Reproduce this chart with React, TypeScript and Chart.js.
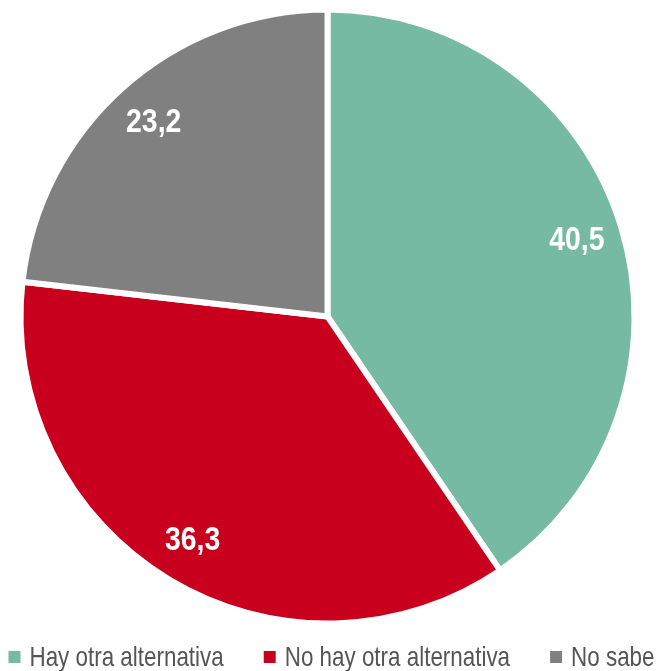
import React, { useEffect, useRef } from "react";
import { Chart, registerables } from "chart.js";

Chart.register(...registerables);

const categories = ["Hay otra alternativa", "No hay otra alternativa", "No sabe"];
const values = [40.5, 36.3, 23.2];
const valueLabels = ["40,5", "36,3", "23,2"];
const colors = ["#76BAA3", "#C8001E", "#808080"];

const FONT = '"Liberation Sans", Arial, sans-serif';
const LABEL_SCALE = 0.86;
const LEGEND_SCALE = 0.8;

function drawCondensed(ctx: any, text: string, x: number, y: number, sx: number, align: string) {
  ctx.save();
  ctx.translate(x, y);
  ctx.scale(sx, 1);
  ctx.textAlign = align;
  ctx.fillText(text, 0, 0);
  ctx.restore();
}

const labelPlugin = {
  id: "sliceLabels",
  afterDatasetsDraw(chart: any) {
    const ctx = chart.ctx;
    const meta = chart.getDatasetMeta(0);
    ctx.save();
    ctx.fillStyle = "#ffffff";
    ctx.font = `bold 33px ${FONT}`;
    ctx.textBaseline = "middle";
    meta.data.forEach((arc: any, i: number) => {
      const { x, y, startAngle, endAngle, outerRadius } = arc.getProps(
        ["x", "y", "startAngle", "endAngle", "outerRadius"],
        true
      );
      const mid = (startAngle + endAngle) / 2;
      const r = outerRadius * 0.85;
      drawCondensed(ctx, valueLabels[i], x + Math.cos(mid) * r, y + Math.sin(mid) * r + 1, LABEL_SCALE, "center");
    });
    ctx.restore();
  },
};

const legendPlugin = {
  id: "customLegend",
  afterDraw(chart: any) {
    const ctx = chart.ctx;
    ctx.save();
    ctx.font = `28px ${FONT}`;
    ctx.textBaseline = "middle";
    const y = 657;
    const box = 12;
    const gapBoxText = 9;
    const gapItems = 40;
    const textW = categories.map((c) => ctx.measureText(c).width * LEGEND_SCALE);
    const widths = textW.map((w) => box + gapBoxText + w);
    const total = widths.reduce((a, b) => a + b, 0) + gapItems * (categories.length - 1);
    let x = (chart.width - total) / 2 + 3;
    categories.forEach((c, i) => {
      ctx.fillStyle = colors[i];
      ctx.fillRect(x, y - box / 2, box, box);
      ctx.fillStyle = "#555555";
      drawCondensed(ctx, c, x + box + gapBoxText, y + 1, LEGEND_SCALE, "left");
      x += widths[i] + gapItems;
    });
    ctx.restore();
  },
};

export default function App() {
  const ref = useRef<HTMLCanvasElement | null>(null);
  useEffect(() => {
    if (!ref.current) return;
    const chart = new Chart(ref.current, {
      type: "pie",
      data: {
        labels: categories,
        datasets: [
          {
            data: values,
            backgroundColor: colors,
            borderColor: "#ffffff",
            borderWidth: 6,
          },
        ],
      },
      options: {
        animation: false,
        responsive: false,
        radius: 307,
        layout: { padding: { left: 0, right: 2, top: 0, bottom: 38 } },
        plugins: {
          legend: { display: false },
          tooltip: { enabled: false },
        },
      } as any,
      plugins: [labelPlugin, legendPlugin],
    });
    return () => chart.destroy();
  }, []);
  return (
    <div style={{ position: "absolute", left: 0, top: 0, width: 657, height: 671 }}>
      <canvas ref={ref} width={657} height={671} style={{ width: 657, height: 671 }} />
    </div>
  );
}
